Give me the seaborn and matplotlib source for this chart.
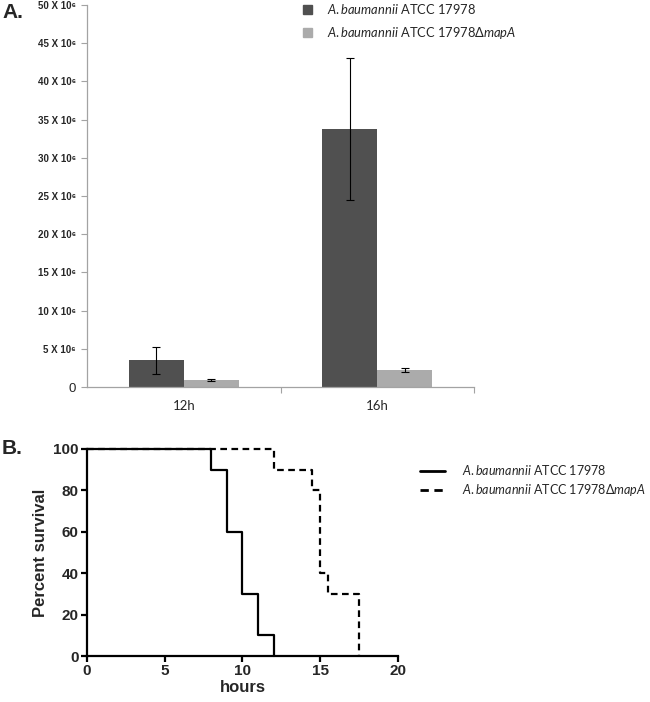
import numpy as np
import pandas as pd
import matplotlib
matplotlib.use("Agg")
import matplotlib.pyplot as plt
import seaborn as sns
from matplotlib.patches import Patch
from matplotlib.lines import Line2D
from matplotlib.ticker import FixedLocator

# ---------------- data ----------------
timepoints = ["12h", "16h"]
strains = ["A.baumannii ATCC 17978", "A.baumannii ATCC 17978ΔmapA"]
wt_counts = [3.5e6, 33.8e6]
wt_err = [1.75e6, 9.3e6]
mut_counts = [0.9e6, 2.2e6]
mut_err = [0.1e6, 0.3e6]
ytick_vals = [0, 5, 10, 15, 20, 25, 30, 35, 40, 45, 50]

wt_hours = [0, 8, 9, 10, 11, 12]
wt_surv = [100, 90, 60, 30, 10, 0]
mut_hours = [0, 12, 14.5, 15, 15.5, 17.5]
mut_surv = [100, 90, 80, 40, 30, 0]
xticks_b = [0, 5, 10, 15, 20]
yticks_b = [0, 20, 40, 60, 80, 100]

dark = "#505050"
light = "#ababab"
axis_gray = "#a3a3a3"

sns.set_style("white")
plt.rcParams["font.family"] = ["Liberation Sans", "DejaVu Sans"]
plt.rcParams["mathtext.fontset"] = "custom"
plt.rcParams["mathtext.it"] = "Lato:italic"
plt.rcParams["mathtext.rm"] = "Lato"

W, H = 650, 702
fig = plt.figure(figsize=(W / 100, H / 100), dpi=100)

def axrect(l, t, r, b):
    return [l / W, 1 - b / H, (r - l) / W, (b - t) / H]

leg_labels = [r"$\it{A{.}baumannii}$ ATCC 17978",
              r"$\it{A{.}baumannii}$ ATCC 17978Δ$\it{mapA}$"]

# ---------------- panel A ----------------
axA = fig.add_axes(axrect(87, 5, 474, 387))
dfA = pd.DataFrame({
    "time": timepoints * 2,
    "strain": [strains[0]] * 2 + [strains[1]] * 2,
    "count": wt_counts + mut_counts,
})
sns.barplot(data=dfA, x="time", y="count", hue="strain", order=timepoints,
            hue_order=strains, palette=[dark, light], width=0.57,
            saturation=1, errorbar=None, legend=False, ax=axA, linewidth=0)
errs = wt_err + mut_err
vals = wt_counts + mut_counts
for patch, v, e in zip(axA.patches, vals, errs):
    cx = patch.get_x() + patch.get_width() / 2
    axA.errorbar(cx, v, yerr=e, fmt="none", ecolor="black", elinewidth=0.8,
                 capsize=3, capthick=0.8)
axA.set_xlim(-0.5, 1.5)
axA.set_ylim(0, 50e6)
axA.set_yticks([v * 1e6 for v in ytick_vals])
axA.set_yticklabels([("0" if v == 0 else f"{v} X 10\u2076") for v in ytick_vals])
for lab in axA.get_yticklabels():
    if lab.get_text() == "0":
        lab.set_fontsize(9.5)
        lab.set_fontweight("normal")
    else:
        lab.set_fontsize(7)
        lab.set_fontweight("bold")
axA.tick_params(axis="y", which="major", left=True, length=4, width=0.8,
                color=axis_gray, pad=4)
axA.set_xticks([0, 1])
axA.set_xticklabels(timepoints, family=["Lato", "DejaVu Sans"], fontsize=9.5)
axA.xaxis.set_minor_locator(FixedLocator([0.5, 1.5]))
axA.tick_params(axis="x", which="major", length=0, pad=9)
axA.tick_params(axis="x", which="minor", bottom=True, length=4, width=0.8,
                color=axis_gray)
for s in ["top", "right"]:
    axA.spines[s].set_visible(False)
for s in ["left", "bottom"]:
    axA.spines[s].set_color(axis_gray)
    axA.spines[s].set_linewidth(0.9)
axA.set_xlabel("")
axA.set_ylabel("")

axA.legend(handles=[Patch(color=dark), Patch(color=light)], labels=leg_labels,
           loc="upper left", bbox_to_anchor=(291 / W, 1 + 10 / H),
           bbox_transform=fig.transFigure, frameon=False,
           handlelength=0.7, handleheight=0.7, handletextpad=1.2,
           labelspacing=0.75, prop={"family": ["Lato", "DejaVu Sans"], "size": 9.3})

fig.text(2 / W, 1 - 13 / H, "A.", fontsize=15, fontweight="bold", va="center", ha="left")

# ---------------- panel B ----------------
axB = fig.add_axes(axrect(87, 449, 398, 656))
dfW = pd.DataFrame({"hours": wt_hours, "surv": wt_surv})
dfM = pd.DataFrame({"hours": mut_hours, "surv": mut_surv})
sns.lineplot(data=dfM, x="hours", y="surv", estimator=None, color="black",
             linestyle=(0, (3, 2)), linewidth=1.6, drawstyle="steps-post", ax=axB)
sns.lineplot(data=dfW, x="hours", y="surv", estimator=None, color="black",
             linewidth=1.6, drawstyle="steps-post", ax=axB)
axB.set_xlim(0, 20)
axB.set_ylim(0, 100)
axB.set_xticks(xticks_b)
axB.set_yticks(yticks_b)
for s in ["top", "right"]:
    axB.spines[s].set_visible(False)
for s in ["left", "bottom"]:
    axB.spines[s].set_color("black")
    axB.spines[s].set_linewidth(1.6)
axB.tick_params(axis="both", length=4, width=1.6, color="black", labelsize=11,
                left=True, bottom=True, pad=2)
for lab in axB.get_xticklabels() + axB.get_yticklabels():
    lab.set_fontweight("bold")
axB.set_xlabel("hours", fontsize=12, fontweight="bold", labelpad=1)
axB.set_ylabel("Percent survival", fontsize=12, fontweight="bold", labelpad=4)
for ln in axB.lines:
    ln.set_clip_on(False)

axB.legend(handles=[Line2D([], [], color="black", lw=2),
                    Line2D([], [], color="black", lw=2, linestyle=(0, (3, 2)))],
           labels=leg_labels, loc="upper left",
           bbox_to_anchor=(409 / W, 1 - 452 / H),
           bbox_transform=fig.transFigure, frameon=False,
           handlelength=2.0, handletextpad=1.3, labelspacing=0.4,
           prop={"family": ["Lato", "DejaVu Sans"], "size": 9})

fig.text(2 / W, 1 - 448 / H, "B.", fontsize=15, fontweight="bold", va="center", ha="left")

fig.savefig("out.png", dpi=100)
